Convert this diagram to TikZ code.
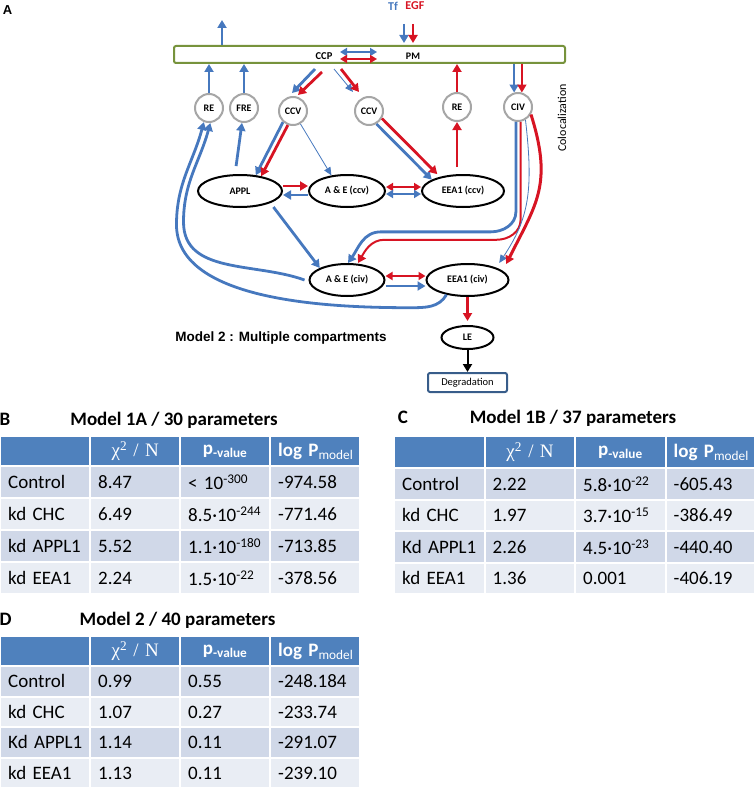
\documentclass[tikz,border=0pt]{standalone}
\usepackage{fontspec}
\setmainfont{Carlito}
\newfontfamily\arialfont{Liberation Sans}
\newfontfamily\timesfont{Liberation Serif}
\usetikzlibrary{arrows.meta,positioning,shapes.geometric}
\definecolor{tfblue}{RGB}{70,120,190}
\definecolor{egfred}{RGB}{215,20,35}
\definecolor{pmgreen}{RGB}{119,147,60}
\definecolor{vesgray}{RGB}{166,166,166}
\definecolor{hdrblue}{RGB}{79,129,189}
\definecolor{rowdark}{RGB}{208,216,232}
\definecolor{rowlight}{RGB}{233,237,244}
\definecolor{degblue}{RGB}{56,93,138}

\begin{document}
\begin{tikzpicture}[
    x=1pt, y=1pt,
    font=\fontsize{10}{12}\selectfont\bfseries,
    membrane/.style={draw=pmgreen, line width=2pt, rounded corners=2pt, fill=white, minimum width=391pt, minimum height=17pt},
    vesicle/.style={draw=vesgray, circle, line width=2pt, minimum size=28pt, inner sep=0pt, fill=white},
    endo/.style={draw, ellipse, line width=2pt, minimum height=32pt, inner sep=0pt},
    tflow/.style={-{Triangle[length=8pt,width=9pt]}, draw=tfblue, line width=2.8pt},
    tthin/.style={-{Triangle[length=8pt,width=7pt]}, draw=tfblue, line width=0.8pt},
    eflow/.style={-{Triangle[length=8pt,width=9pt]}, draw=egfred, line width=2.8pt},
    twoway/.style={arrows={Triangle[length=7pt,width=8pt]-Triangle[length=7pt,width=8pt]}},
    tcell/.style={anchor=north west, inner xsep=7pt, inner ysep=0pt, text width=74pt, align=left, font=\fontsize{19}{22}\selectfont},
    thead/.style={tcell, fill=hdrblue, text=white, align=center},
    ttitle/.style={anchor=base, font=\fontsize{19}{22}\selectfont\bfseries}
]
    \useasboundingbox (0,0) rectangle (754,-797);

    % panel A
    \node[font=\arialfont\fontsize{13}{15}\selectfont\bfseries] (pa) at (7.5,-10) {A};
    \node[membrane] (pm) at (369.5,-54.5) {};
    \node[font=\fontsize{10.5}{12}\selectfont\bfseries] (ccp) at (324,-56) {CCP};
    \node (pmlbl) at (413,-56) {PM};
    \node[font=\fontsize{12}{14}\selectfont\bfseries, text=tfblue] (tf) at (393,-6) {Tf};
    \node[font=\fontsize{12}{14}\selectfont\bfseries, text=egfred, right=0.5pt of tf] (egf) {EGF};

    \node[vesicle] (re1) at (209,-108) {RE};
    \node[vesicle, right=5pt of re1] (fre) {FRE};
    \node[vesicle] (ccv1) at (293,-111) {CCV};
    \node[vesicle] (ccv2) at (369,-111) {CCV};
    \node[vesicle] (re2) at (457,-107) {RE};
    \node[vesicle] (civ) at (518,-107) {CIV};

    \node[endo, minimum width=84pt] (appl) at (240,-191) {APPL};
    \node[endo, minimum width=76pt, right=25pt of appl] (aeccv) {A \& E (ccv)};
    \node[endo, minimum width=82pt, right=35pt of aeccv] (eeaccv) {EEA1 (ccv)};
    \node[endo, minimum width=75pt] (aeciv) at (347,-280) {A \& E (civ)};
    \node[endo, minimum width=82pt, right=40pt of aeciv] (eeaciv) {EEA1 (civ)};
    \node[endo, minimum width=52pt, minimum height=23pt, below=28pt of eeaciv] (le) {LE};
    \node[draw=degblue, line width=2pt, rounded corners=2pt, minimum width=79pt, minimum height=19pt,
          font=\fontsize{10.5}{12}\selectfont, below=22pt of le] (degr) {Degradation};

    \node[font=\arialfont\fontsize{13.5}{16}\selectfont\bfseries] (mtitle) at (281,-338) {Model 2 : Multiple compartments};
    \node[font=\fontsize{12}{14}\selectfont, rotate=90] (coloc) at (562,-118) {Colocalization};

    % entry and exit at the membrane
    \coordinate (recyc) at (222,-20);
    \coordinate (tfin) at (404,-24);
    \coordinate (egfin) at (413,-24);
    \draw[tflow] (pm.north -| recyc) -- (recyc);
    \draw[tflow, line width=2pt, shorten >=2pt] (tfin) -- (tfin |- pm.north);
    \draw[eflow, line width=2pt, shorten >=2pt] (egfin) -- (egfin |- pm.north);
    \draw[tflow, twoway] ([shift={(16,4)}]ccp.center) -- ++(37,0);
    \draw[eflow, twoway] ([shift={(16,-3)}]ccp.center) -- ++(37,0);

    \draw[tflow] (re1) -- (re1 |- pm.south);
    \draw[tflow] (fre) -- (fre |- pm.south);
    \draw[eflow] (re2) -- (re2 |- pm.south);
    \draw[tflow, line width=2pt] (pm.south -| civ.105) -- (civ.105);
    \draw[eflow, line width=2pt] (pm.south -| civ.75) -- (civ.75);

    % clathrin route
    \draw[tflow] ([shift={(-9,-13)}]ccp.center) -- ([shift={(-1,3)}]ccv1.north);
    \draw[eflow] ([shift={(-2,-16)}]ccp.center) -- ([shift={(5,1)}]ccv1.north);
    \draw[tthin] ([shift={(10,-13)}]ccp.center) -- ([shift={(-16,4)}]ccv2.north);
    \draw[eflow] ([shift={(17,-13)}]ccp.center) -- ([shift={(-10,4)}]ccv2.north);

    \draw[tflow] (ccv1.228) -- (appl.45);
    \draw[eflow] (ccv1.250) -- (appl.35);
    \draw[tthin] (ccv1.300) -- (aeccv.135);
    \draw[tflow] (ccv2.300) -- (eeaccv.160);
    \draw[eflow] (ccv2.330) -- ([shift={(5.5,5.5)}]eeaccv.160);

    \draw[tflow, shorten <=8pt] ([xshift=-5]appl.north) -- (fre);
    \draw[eflow] ([yshift=5]appl.east) -- ([yshift=5]aeccv.west);
    \draw[tflow] ([yshift=-4]aeccv.west) -- ([yshift=-4]appl.east);
    \draw[eflow, twoway] ([yshift=4]aeccv.east) -- ([yshift=4]eeaccv.west);
    \draw[tflow, twoway] ([yshift=-3]aeccv.east) -- ([yshift=-3]eeaccv.west);
    \draw[eflow, shorten <=7pt] (eeaccv.north -| re2) -- (re2);
    \draw[tflow] ([shift={(3,-4)}]appl.south east) -- (aeciv.north west);

    % clathrin-independent route
    \draw[tflow] (civ.262) -- ++(0,-90) to[out=-90,in=0] ++(-25,-20) -- ++(-110,0)
        to[out=180,in=55] ([xshift=1]aeciv.north);
    \draw[eflow, line width=2pt] (civ.280) -- ++(0,-98) to[out=-90,in=0] ++(-24,-20) -- ++(-112,0)
        to[out=180,in=60] ([xshift=11]aeciv.north);
    \draw[tthin] (civ.300) .. controls +(8,-70) and +(30,45) .. ([shift={(2,5)}]eeaciv.north east);
    \draw[eflow, line width=3pt] (civ.330) .. controls +(22,-70) and +(30,60) .. ([shift={(9,4)}]eeaciv.north east);

    \draw[eflow, twoway] ([yshift=4]aeciv.east) -- ([yshift=4]eeaciv.west);
    \draw[tflow] ([yshift=-6]aeciv.east) -- ([yshift=-6]eeaciv.west);

    % back to recycling endosome
    \draw[tflow] ([xshift=-4]aeciv.west) to[out=160,in=-90] ++(-121,58)
        to[out=90,in=-105] (re1.275);
    \draw[tflow] (eeaciv.215) to[out=240,in=0] ++(-36,-13)
        to[out=180,in=-90,looseness=0.8] ++(-234,83) to[out=90,in=-105] (re1.250);

    \draw[eflow, shorten >=4pt] (eeaciv) -- (le);
    \draw[-{Triangle[length=8pt,width=9pt]}, line width=2pt] (le) -- (degr);

    % panel B
    \node[ttitle] (bl) at (5,-425) {B};
    \node[ttitle] (bt) at (174,-425) {Model 1A / 30 parameters};
    \foreach \c/\t in {1/{}, 2/{\timesfont χ\textsuperscript{2} / N}, 3/{\bfseries p\textsubscript{-value}},
                       4/{\bfseries log P\textsubscript{\mdseries model}}}
        \node[thead, minimum height=28pt] (b-0-\c) at ({1+90*(\c-1)},-437) {\mbox{\t}};
    \foreach \r/\rc/\ta/\tb/\tc/\td in {
        1/rowdark/Control/8.47/{< 10\textsuperscript{-300}}/-974.58,
        2/rowlight/kd CHC/6.49/{8.5·10\textsuperscript{-244}}/-771.46,
        3/rowdark/kd APPL1/5.52/{1.1·10\textsuperscript{-180}}/-713.85,
        4/rowlight/kd EEA1/2.24/{1.5·10\textsuperscript{-22}}/-378.56}{
        \foreach \c/\t in {1/\ta, 2/\tb, 3/\tc, 4/\td}
            \node[tcell, fill=\rc, minimum height=30pt] (b-\r-\c) at ({1+90*(\c-1)},{-467-32*(\r-1)}) {\mbox{\t}};
    }

    % panel C
    \node[ttitle] (cl) at (403,-423) {C};
    \node[ttitle] (ct) at (573,-423) {Model 1B / 37 parameters};
    \foreach \c/\t in {1/{}, 2/{\timesfont χ\textsuperscript{2} / N}, 3/{\bfseries p\textsubscript{-value}},
                       4/{\bfseries log P\textsubscript{\mdseries model}}}
        \node[thead, text width=74.5pt, minimum height=30pt] (c-0-\c) at ({395+90.5*(\c-1)},-437) {\mbox{\t}};
    \foreach \r/\rc/\ta/\tb/\tc/\td in {
        1/rowdark/Control/2.22/{5.8·10\textsuperscript{-22}}/-605.43,
        2/rowlight/kd CHC/1.97/{3.7·10\textsuperscript{-15}}/-386.49,
        3/rowdark/Kd APPL1/2.26/{4.5·10\textsuperscript{-23}}/-440.40,
        4/rowlight/kd EEA1/1.36/0.001/-406.19}{
        \foreach \c/\t in {1/\ta, 2/\tb, 3/\tc, 4/\td}
            \node[tcell, text width=74.5pt, fill=\rc, minimum height=29.5pt] (c-\r-\c) at ({395+90.5*(\c-1)},{-469-31.5*(\r-1)}) {\mbox{\t}};
    }

    % panel D
    \node[ttitle] (dl) at (5.5,-625) {D};
    \node[ttitle] (dt) at (177.5,-625) {Model 2 / 40 parameters};
    \foreach \c/\t in {1/{}, 2/{\timesfont χ\textsuperscript{2} / N}, 3/{\bfseries p\textsubscript{-value}},
                       4/{\bfseries log P\textsubscript{\mdseries model}}}
        \node[thead, minimum height=28pt] (d-0-\c) at ({1+90*(\c-1)},-637) {\mbox{\t}};
    \foreach \r/\rc/\ta/\tb/\tc/\td in {
        1/rowdark/Control/0.99/0.55/-248.184,
        2/rowlight/kd CHC/1.07/0.27/-233.74,
        3/rowdark/Kd APPL1/1.14/0.11/-291.07,
        4/rowlight/kd EEA1/1.13/0.11/-239.10}{
        \foreach \c/\t in {1/\ta, 2/\tb, 3/\tc, 4/\td}
            \node[tcell, fill=\rc, minimum height=28.5pt] (d-\r-\c) at ({1+90*(\c-1)},{-667-30.5*(\r-1)}) {\mbox{\t}};
    }
\end{tikzpicture}
\end{document}
